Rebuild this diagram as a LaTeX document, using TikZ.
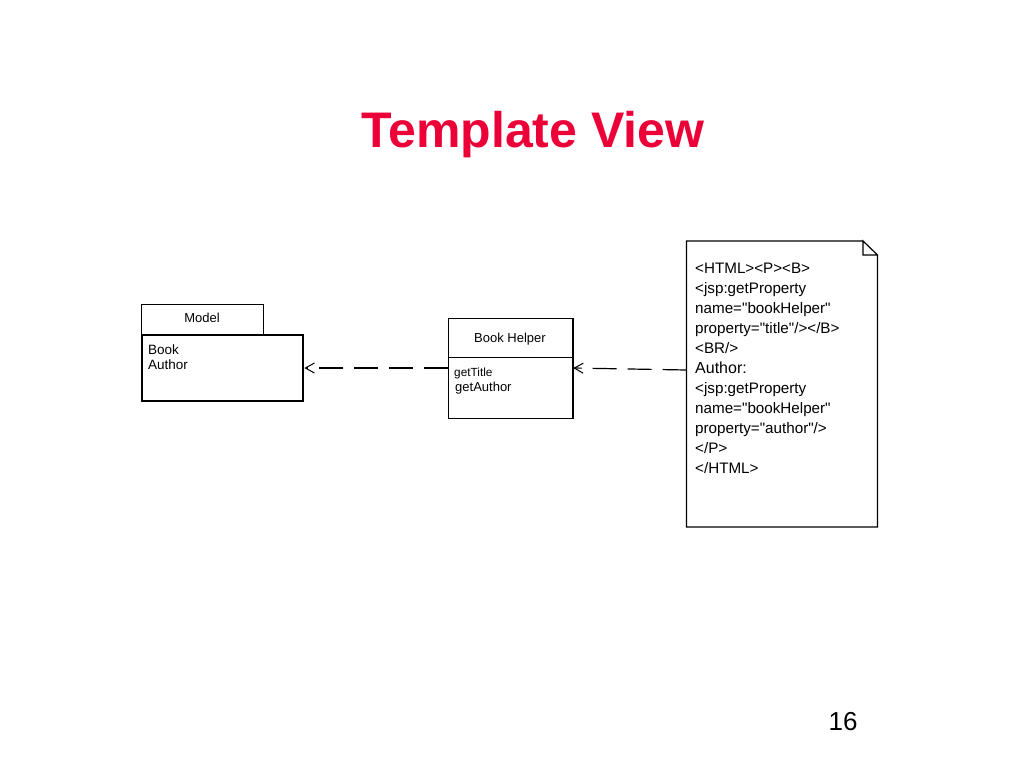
\documentclass[tikz,border=0pt]{standalone}
\usepackage{fontspec}
\setmainfont{Liberation Sans}
\newfontfamily\plainfont{Liberation Sans}
\usetikzlibrary{arrows.meta}
\definecolor{titlered}{RGB}{236,0,56}
\tikzset{
  thinbox/.style={draw=black, line width=1.2pt, inner sep=0pt, anchor=north west},
  thickbox/.style={draw=black, line width=2.4pt, inner sep=0pt, anchor=north west},
  lbl/.style={inner sep=0pt, anchor=base west},
  clbl/.style={inner sep=0pt, anchor=base},
  dep/.style={line width=1.2pt, dash pattern=on 24pt off 11pt, -{Straight Barb[length=9pt,width=10pt,line width=1pt]}},
}
\newcommand{\px}[1]{\fontsize{#1}{#1}\selectfont}
\begin{document}
\begin{tikzpicture}[x=1pt,y=-1pt]
\useasboundingbox[fill=white] (0,0) rectangle (1024,768);
% title
\node[clbl, text=titlered] (title) at (533,147) {\px{50}\bfseries Template View};
% Model
\node[thinbox, minimum width=122pt, minimum height=30pt] (modeltab) at (141,303.5) {};
\node[clbl] (modelname) at (202,322.5) {\px{13}Model};
\node[thickbox, minimum width=161pt, minimum height=66pt] (model) at (141,333.5) {};
\node[lbl] (book) at (148,354) {\px{13.5}Book};
\node[lbl] (author) at (148,369) {\px{13.5}Author};
% Book Helper
\node[thinbox, minimum width=124pt, minimum height=39pt] (helperhead) at (448,318) {};
\node[thinbox, minimum width=124pt, minimum height=61pt] (helperbody) at (448,357) {};
\draw[line width=2.4pt] (helperhead.north east) -- (helperbody.south east);
\node[clbl] (helpername) at (510,342.5) {\px{13}Book Helper};
\node[lbl] (gettitle) at (454,376.5) {\px{11.8}getTitle};
\node[lbl] (getauthor) at (455,391.5) {\px{13}getAuthor};
% Document
\node[inner sep=0pt, anchor=north west, minimum width=191pt, minimum height=286pt] (doc) at (686.5,241) {};
\draw[line width=1.2pt] (863,241) -- (686.5,241) -- (686.5,527) -- (877.5,527) -- (877.5,255) -- (863,241) -- (863,255) -- (877.5,255);
\node[inner sep=0pt, anchor=north west, align=left, font={\plainfont\fontsize{15.2}{20}\selectfont}] (doctext) at (695,263) {%
<HTML><P><B>\\
<jsp:getProperty\\
name="bookHelper"\\
property="title"/></B>\\
<BR/>\\
{\fontsize{16}{20}\selectfont Author:}\\
<jsp:getProperty\\
name="bookHelper"\\
property="author"/>\\
</P>\\
</HTML>};
% connectors
\draw[dep] (helperbody.west |- 0,368) -- (model.east |- 0,368);
\draw[dep] (doc.west |- 0,370) -- (helperbody.east |- 0,368);
% page number
\node[clbl] (pagenum) at (843,730) {\px{26}16};
\end{tikzpicture}
\end{document}
